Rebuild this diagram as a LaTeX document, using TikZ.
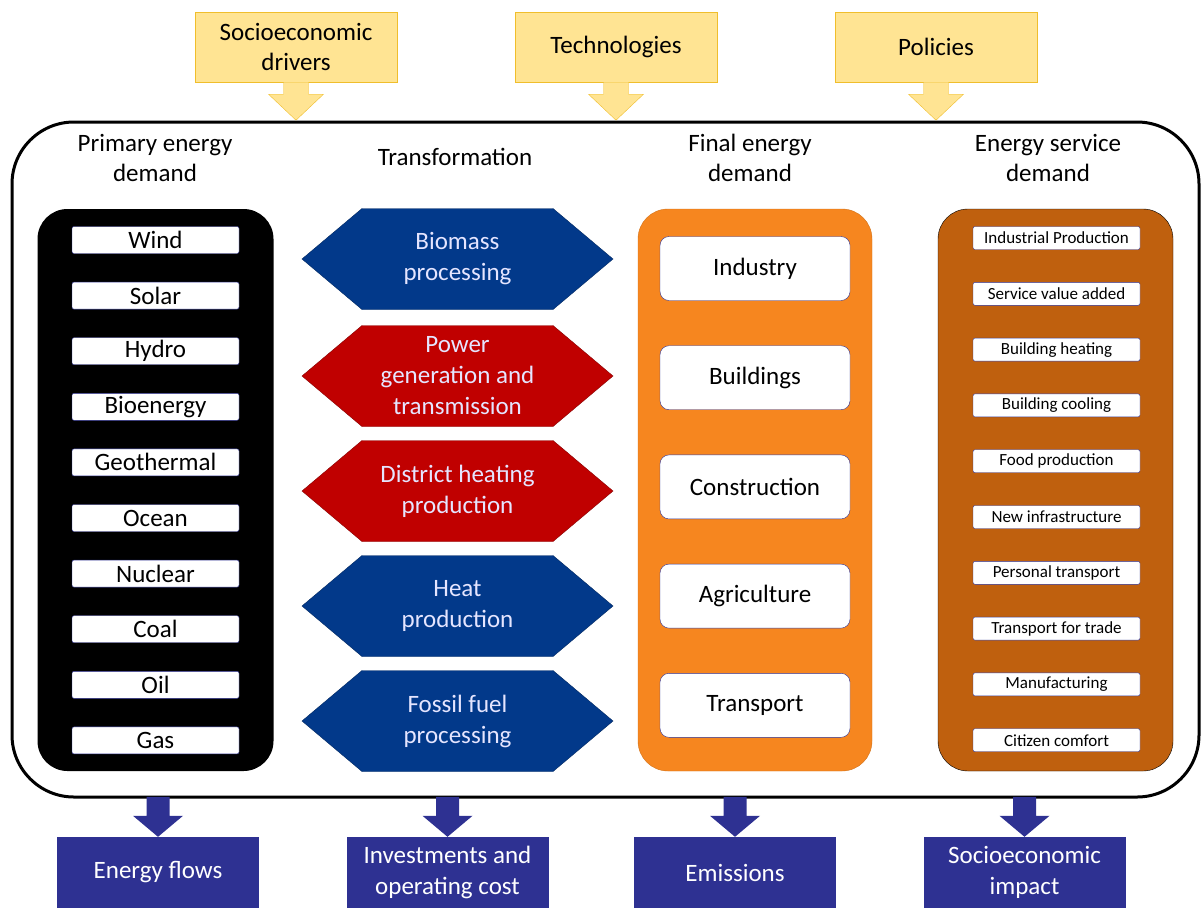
\documentclass[tikz,border=0pt]{standalone}
\usepackage{fontspec}
\setmainfont{Carlito}
\usetikzlibrary{positioning, calc}
\definecolor{mbnavy}{HTML}{2E3192}
\definecolor{mbblue}{HTML}{02398A}
\definecolor{mbred}{HTML}{C00000}
\definecolor{mborange}{HTML}{F6861F}
\definecolor{mbbrown}{HTML}{BF600E}
\definecolor{mbyellow}{HTML}{FFE493}
\definecolor{mbgold}{HTML}{F0BE2C}

\begin{document}
\begin{tikzpicture}[x=1pt, y=-1pt,
      dr/.style={draw=mbgold, fill=mbyellow, minimum width=202pt, minimum height=70pt, align=center, inner sep=0pt, font=\fontsize{25}{30}\selectfont},
      res/.style={fill=mbnavy, minimum width=202pt, minimum height=71pt, align=center, inner sep=0pt, text=white, font=\fontsize{25}{31}\selectfont},
      hd/.style={align=center, inner sep=0pt, font=\fontsize{25}{30}\selectfont},
      pan/.style={rounded corners=30pt, minimum width=236pt, minimum height=562pt},
      pe/.style={draw=mbnavy, fill=white, rounded corners=2pt, minimum width=167pt, minimum height=27pt, inner sep=0pt, font=\fontsize{25}{25}\selectfont},
      fe/.style={draw=mbnavy, fill=white, rounded corners=9pt, minimum width=190pt, minimum height=64pt, font=\fontsize{25}{25}\selectfont},
      se/.style={draw=mbnavy, fill=white, rounded corners=2pt, minimum width=167pt, minimum height=23pt, inner sep=0pt, font=\fontsize{17}{17}\selectfont},
      tr/.style={align=center, inner sep=0pt, text=white!90!blue, font=\fontsize{25}{31}\selectfont}]
      \useasboundingbox (0,0) rectangle (1201,908);

      \node[draw, line width=3pt, rounded corners=62pt, minimum width=1187pt, minimum height=675pt] (fr) at (605.5,459.5) {};

      \foreach \x/\t [count=\i] in {296/{Socioeconomic\\drivers}, 616/Technologies, 936/Policies} {
        \node[dr] (d\i) at (\x,47) {\t};
        \filldraw[draw=mbgold, fill=mbyellow] (d\i.south) ++(-12.5,0) -- ++(0,12) -- ++(-15,0) -- ++(27.5,26) -- ++(27.5,-26) -- ++(-15,0) -- ++(0,-12) -- cycle;}

      \node[hd] (h1) at (155,158) {Primary energy\\demand};
      \node[hd] (h2) at (455,157) {Transformation};
      \node[hd] (h3) at (750,158) {Final energy\\demand};
      \node[hd] (h4) at (1048,158) {Energy service\\demand};

      \node[pan, fill=black] (pp) at (155.5,490) {};
      \node[pan, draw=mborange!85!black, fill=mborange, minimum width=234pt] (fp) at (755,490) {};
      \node[pan, draw=black, fill=mbbrown, minimum width=235pt] (sp) at (1055.5,490) {};

      \foreach \t [count=\i] in {Wind, Solar, Hydro, Bioenergy, Geothermal, Ocean, Nuclear, Coal, Oil, Gas}
        \node[pe] (p\i) at (155.5,{240+55.6*(\i-1)}) {\t};

      \foreach \y/\c/\t [count=\i] in {259/mbblue/{Biomass\\processing}, 376/mbred/{Power\\generation and\\transmission},
          491/mbred/{District heating\\production}, 606/mbblue/{Heat\\production}, 721/mbblue/{Fossil fuel\\processing}} {
        \filldraw[fill=\c, draw=\c!70!black] (302,\y) -- ++(60,-50.5) -- ++(191,0) -- ++(60,50.5) -- ++(-60,50.5) -- ++(-191,0) -- cycle;
        \node[tr] (t\i) at (457.5,\y) {\t};}

      \foreach \t [count=\i] in {Industry, Buildings, Construction, Agriculture, Transport}
        \node[fe] (f\i) at (755,{268.5+109.2*(\i-1)}) {\t};

      \foreach \t [count=\i] in {Industrial Production, Service value added, Building heating, Building cooling, Food production,
          New infrastructure, Personal transport, Transport for trade, Manufacturing, Citizen comfort}
        \node[se] (s\i) at (1056.5,{238+55.8*(\i-1)}) {\t};

      \foreach \x/\t [count=\i] in {158/Energy flows, 447.5/{Investments and\\operating cost}, 735/Emissions, 1024.5/{Socioeconomic\\impact}} {
        \node[res] (r\i) at (\x,872.5) {\t};
        \fill[mbnavy] (r\i.north) -- ++(-25,-21) -- ++(13.5,0) -- ++(0,-19) -- ++(23,0) -- ++(0,19) -- ++(13.5,0) -- cycle;}
    \end{tikzpicture}
\end{document}
